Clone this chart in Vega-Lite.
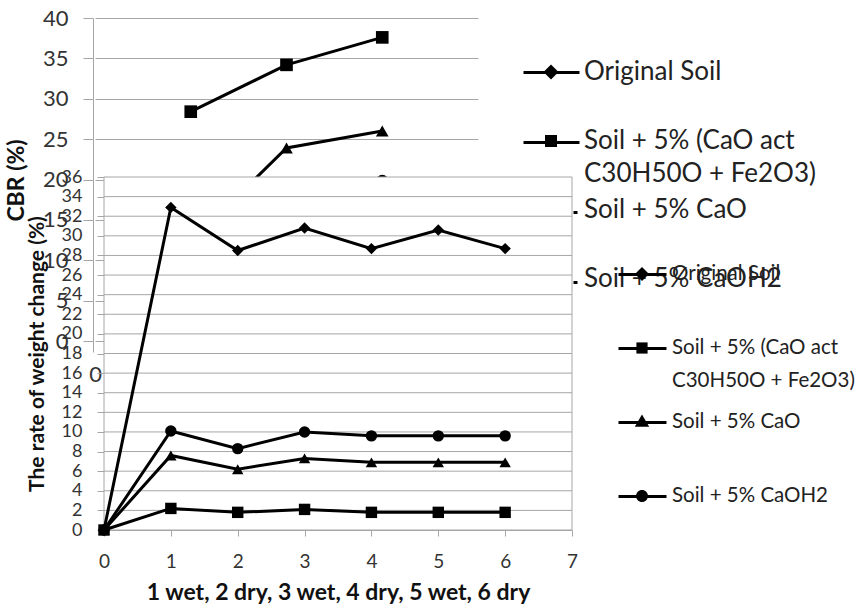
{
  "$schema": "https://vega.github.io/schema/vega-lite/v6.json",
  "width": 477,
  "height": 512,
  "autosize": "none",
  "padding": {"left": 95, "top": 18, "right": 291, "bottom": 82},
  "background": "white",
  "config": {
    "font": "Lato",
    "view": {"stroke": null},
    "style": {"guide-label": {"lineHeight": 33}},
    "axis": {
      "domainColor": "#a6a6a6",
      "tickColor": "#a6a6a6",
      "gridColor": "#a6a6a6",
      "labelColor": "#333333",
      "titleColor": "#111111",
      "labelFont": "Lato",
      "titleFont": "Lato",
      "titleFontWeight": "bold",
      "labelFlush": false,
      "labelOverlap": false
    },
    "legend": {"labelFont": "Lato", "labelColor": "#222222", "padding": 0, "gridAlign": "all", "title": null, "labelLimit": 500, "symbolOpacity": 1}
  },
  "datasets": {
    "cbr": [
      {"series": "Original Soil", "cycle": 1, "cbr": 8.5},
      {"series": "Original Soil", "cycle": 2, "cbr": 10.2},
      {"series": "Original Soil", "cycle": 3, "cbr": 11.6},
      {"series": "Soil + 5% (CaO act C30H50O + Fe2O3)", "cycle": 1, "cbr": 28.4},
      {"series": "Soil + 5% (CaO act C30H50O + Fe2O3)", "cycle": 2, "cbr": 34.2},
      {"series": "Soil + 5% (CaO act C30H50O + Fe2O3)", "cycle": 3, "cbr": 37.6},
      {"series": "Soil + 5% CaO", "cycle": 1, "cbr": 12.3},
      {"series": "Soil + 5% CaO", "cycle": 2, "cbr": 23.9},
      {"series": "Soil + 5% CaO", "cycle": 3, "cbr": 26.0},
      {"series": "Soil + 5% CaOH2", "cycle": 1, "cbr": 14.5},
      {"series": "Soil + 5% CaOH2", "cycle": 2, "cbr": 17.0},
      {"series": "Soil + 5% CaOH2", "cycle": 3, "cbr": 19.8}
    ],
    "weight": [
      {"series": "Original Soil", "cycle": 0, "rate": 0},
      {"series": "Original Soil", "cycle": 1, "rate": 32.9},
      {"series": "Original Soil", "cycle": 2, "rate": 28.5},
      {"series": "Original Soil", "cycle": 3, "rate": 30.8},
      {"series": "Original Soil", "cycle": 4, "rate": 28.7},
      {"series": "Original Soil", "cycle": 5, "rate": 30.6},
      {"series": "Original Soil", "cycle": 6, "rate": 28.7},
      {"series": "Soil + 5% (CaO act C30H50O + Fe2O3)", "cycle": 0, "rate": 0},
      {"series": "Soil + 5% (CaO act C30H50O + Fe2O3)", "cycle": 1, "rate": 2.2},
      {"series": "Soil + 5% (CaO act C30H50O + Fe2O3)", "cycle": 2, "rate": 1.8},
      {"series": "Soil + 5% (CaO act C30H50O + Fe2O3)", "cycle": 3, "rate": 2.1},
      {"series": "Soil + 5% (CaO act C30H50O + Fe2O3)", "cycle": 4, "rate": 1.8},
      {"series": "Soil + 5% (CaO act C30H50O + Fe2O3)", "cycle": 5, "rate": 1.8},
      {"series": "Soil + 5% (CaO act C30H50O + Fe2O3)", "cycle": 6, "rate": 1.8},
      {"series": "Soil + 5% CaO", "cycle": 0, "rate": 0},
      {"series": "Soil + 5% CaO", "cycle": 1, "rate": 7.6},
      {"series": "Soil + 5% CaO", "cycle": 2, "rate": 6.2},
      {"series": "Soil + 5% CaO", "cycle": 3, "rate": 7.3},
      {"series": "Soil + 5% CaO", "cycle": 4, "rate": 6.9},
      {"series": "Soil + 5% CaO", "cycle": 5, "rate": 6.9},
      {"series": "Soil + 5% CaO", "cycle": 6, "rate": 6.9},
      {"series": "Soil + 5% CaOH2", "cycle": 0, "rate": 0},
      {"series": "Soil + 5% CaOH2", "cycle": 1, "rate": 10.1},
      {"series": "Soil + 5% CaOH2", "cycle": 2, "rate": 8.3},
      {"series": "Soil + 5% CaOH2", "cycle": 3, "rate": 10.0},
      {"series": "Soil + 5% CaOH2", "cycle": 4, "rate": 9.6},
      {"series": "Soil + 5% CaOH2", "cycle": 5, "rate": 9.6},
      {"series": "Soil + 5% CaOH2", "cycle": 6, "rate": 9.6}
    ],
    "grid": [
      {"v": 2}, {"v": 4}, {"v": 6}, {"v": 8}, {"v": 10}, {"v": 12}, {"v": 14}, {"v": 16},
      {"v": 18}, {"v": 20}, {"v": 22}, {"v": 24}, {"v": 26}, {"v": 28}, {"v": 30}, {"v": 32}, {"v": 34}
    ]
  },
  "layer": [
    {
      "data": {"name": "cbr"},
      "encoding": {
        "x": {
          "field": "cycle", "type": "quantitative",
          "scale": {"domain": [0, 4], "range": [0, 383], "nice": false},
          "axis": {"orient": "bottom", "values": [0], "offset": -178, "domain": false, "ticks": false, "grid": false, "labelFontSize": 22, "labelPadding": 12, "labelDx": -3, "title": null}
        },
        "y": {
          "field": "cbr", "type": "quantitative",
          "scale": {"domain": [-1.36, 40], "range": [334, 0], "nice": false, "zero": false},
          "axis": {"orient": "left", "values": [0, 5, 10, 15, 20, 25, 30, 35, 40], "offset": 2, "tickSize": 10, "labelPadding": 15, "labelFontSize": 22, "labelOverlap": false, "grid": true, "title": "CBR (%)", "titleFontSize": 23, "titlePadding": 14, "titleY": 162}
        }
      },
      "layer": [
        {"mark": {"type": "line", "color": "black", "strokeWidth": 3}, "encoding": {"detail": {"field": "series"}}},
        {
          "mark": {"type": "point", "filled": true, "color": "black", "opacity": 1, "size": 160},
          "encoding": {
            "shape": {
              "field": "series", "type": "nominal",
              "scale": {"domain": ["Original Soil", "Soil + 5% (CaO act C30H50O + Fe2O3)", "Soil + 5% CaO", "Soil + 5% CaOH2"], "range": ["diamond", "square", "triangle-up", "circle"]},
              "legend": null
            }
          }
        },
        {
          "transform": [{"filter": "false"}],
          "mark": {"type": "point", "filled": true, "color": "black", "opacity": 1},
          "encoding": {
            "shape": {
              "field": "series", "type": "nominal",
              "scale": {
                "domain": ["Original Soil", "Soil + 5% (CaO act C30H50O + Fe2O3)", "Soil + 5% CaO", "Soil + 5% CaOH2"],
                "range": ["M0,-0.375L0.375,0L0,0.375L-0.375,0Z", "M-0.3,-0.3H0.3V0.3H-0.3Z", "M0,0", "M0,0"]
              },
              "legend": {
                "orient": "none", "legendX": 435, "legendY": 33,
                "symbolSize": 1600, "labelFontSize": 26, "labelOffset": 12, "rowPadding": 2,
                "labelExpr": "datum.label == 'Soil + 5% (CaO act C30H50O + Fe2O3)' ? ['Soil + 5% (CaO act', 'C30H50O + Fe2O3)'] : datum.label"
              }
            }
          }
        }
      ],
      "resolve": {"scale": {"shape": "independent"}}
    },
    {
      "layer": [
        {
          "data": {"values": [{}]},
          "mark": {"type": "rect", "fill": "white", "stroke": "#a6a6a6", "strokeWidth": 1},
          "encoding": {
            "x": {"datum": 0, "type": "quantitative", "scale": {"domain": [0, 7], "range": [9, 477], "nice": false},
              "axis": {"orient": "bottom", "values": [0, 1, 2, 3, 4, 5, 6, 7], "format": "d", "grid": false, "tickSize": 6, "labelFontSize": 19, "labelPadding": 16, "labelOverlap": false, "title": "1 wet, 2 dry, 3 wet, 4 dry, 5 wet, 6 dry", "titleFontSize": 23, "titlePadding": 10}},
            "x2": {"datum": 7},
            "y": {"datum": 0, "type": "quantitative", "scale": {"domain": [0, 36], "range": [512, 159], "nice": false},
              "axis": {"orient": "left", "offset": -9, "values": [0, 2, 4, 6, 8, 10, 12, 14, 16, 18, 20, 22, 24, 26, 28, 30, 32, 34, 36], "format": "d", "grid": false, "tickSize": 7, "labelPadding": 15, "labelFontSize": 18, "labelOverlap": false, "labelBound": false, "title": "The rate of weight change (%)", "titleFontSize": 21, "titlePadding": 14}},
            "y2": {"datum": 36}
          }
        },
        {
          "data": {"name": "grid"},
          "mark": {"type": "rule", "color": "#a6a6a6", "strokeWidth": 1},
          "encoding": {
            "x": {"datum": 0, "type": "quantitative", "scale": {"domain": [0, 7], "range": [9, 477], "nice": false},
              "axis": {"orient": "bottom", "values": [0, 1, 2, 3, 4, 5, 6, 7], "format": "d", "grid": false, "tickSize": 6, "labelFontSize": 19, "labelPadding": 16, "labelOverlap": false, "title": "1 wet, 2 dry, 3 wet, 4 dry, 5 wet, 6 dry", "titleFontSize": 23, "titlePadding": 10}},
            "x2": {"datum": 7},
            "y": {"field": "v", "type": "quantitative", "scale": {"domain": [0, 36], "range": [512, 159], "nice": false},
              "axis": {"orient": "left", "offset": -9, "values": [0, 2, 4, 6, 8, 10, 12, 14, 16, 18, 20, 22, 24, 26, 28, 30, 32, 34, 36], "format": "d", "grid": false, "tickSize": 7, "labelPadding": 15, "labelFontSize": 18, "labelOverlap": false, "labelBound": false, "title": "The rate of weight change (%)", "titleFontSize": 21, "titlePadding": 14}}
          }
        },
        {
          "data": {"name": "weight"},
          "mark": {"type": "line", "color": "black", "strokeWidth": 3},
          "encoding": {
            "x": {"field": "cycle", "type": "quantitative", "scale": {"domain": [0, 7], "range": [9, 477], "nice": false},
              "axis": {"orient": "bottom", "values": [0, 1, 2, 3, 4, 5, 6, 7], "format": "d", "grid": false, "tickSize": 6, "labelFontSize": 19, "labelPadding": 16, "labelOverlap": false, "title": "1 wet, 2 dry, 3 wet, 4 dry, 5 wet, 6 dry", "titleFontSize": 23, "titlePadding": 10}},
            "y": {"field": "rate", "type": "quantitative", "scale": {"domain": [0, 36], "range": [512, 159], "nice": false},
              "axis": {"orient": "left", "offset": -9, "values": [0, 2, 4, 6, 8, 10, 12, 14, 16, 18, 20, 22, 24, 26, 28, 30, 32, 34, 36], "format": "d", "grid": false, "tickSize": 7, "labelPadding": 15, "labelFontSize": 18, "labelOverlap": false, "labelBound": false, "title": "The rate of weight change (%)", "titleFontSize": 21, "titlePadding": 14}},
            "detail": {"field": "series"}
          }
        },
        {
          "data": {"name": "weight"},
          "mark": {"type": "point", "filled": true, "color": "black", "opacity": 1, "size": 130},
          "encoding": {
            "x": {"field": "cycle", "type": "quantitative", "scale": {"domain": [0, 7], "range": [9, 477], "nice": false},
              "axis": {"orient": "bottom", "values": [0, 1, 2, 3, 4, 5, 6, 7], "format": "d", "grid": false, "tickSize": 6, "labelFontSize": 19, "labelPadding": 16, "labelOverlap": false, "title": "1 wet, 2 dry, 3 wet, 4 dry, 5 wet, 6 dry", "titleFontSize": 23, "titlePadding": 10}},
            "y": {"field": "rate", "type": "quantitative", "scale": {"domain": [0, 36], "range": [512, 159], "nice": false},
              "axis": {"orient": "left", "offset": -9, "values": [0, 2, 4, 6, 8, 10, 12, 14, 16, 18, 20, 22, 24, 26, 28, 30, 32, 34, 36], "format": "d", "grid": false, "tickSize": 7, "labelPadding": 15, "labelFontSize": 18, "labelOverlap": false, "labelBound": false, "title": "The rate of weight change (%)", "titleFontSize": 21, "titlePadding": 14}},
            "shape": {
              "field": "series", "type": "nominal",
              "scale": {"domain": ["Original Soil", "Soil + 5% (CaO act C30H50O + Fe2O3)", "Soil + 5% CaO", "Soil + 5% CaOH2"], "range": ["diamond", "square", "triangle-up", "circle"]},
              "legend": null
            }
          }
        },
        {
          "data": {"name": "weight"},
          "transform": [{"filter": "false"}],
          "mark": {"type": "point", "filled": true, "color": "black", "opacity": 1},
          "encoding": {
            "x": {"field": "cycle", "type": "quantitative", "scale": {"domain": [0, 7], "range": [9, 477], "nice": false},
              "axis": {"orient": "bottom", "values": [0, 1, 2, 3, 4, 5, 6, 7], "format": "d", "grid": false, "tickSize": 6, "labelFontSize": 19, "labelPadding": 16, "labelOverlap": false, "title": "1 wet, 2 dry, 3 wet, 4 dry, 5 wet, 6 dry", "titleFontSize": 23, "titlePadding": 10}},
            "y": {"field": "rate", "type": "quantitative", "scale": {"domain": [0, 36], "range": [512, 159], "nice": false},
              "axis": {"orient": "left", "offset": -9, "values": [0, 2, 4, 6, 8, 10, 12, 14, 16, 18, 20, 22, 24, 26, 28, 30, 32, 34, 36], "format": "d", "grid": false, "tickSize": 7, "labelPadding": 15, "labelFontSize": 18, "labelOverlap": false, "labelBound": false, "title": "The rate of weight change (%)", "titleFontSize": 21, "titlePadding": 14}},
            "shape": {
              "field": "series", "type": "nominal",
              "scale": {
                "domain": ["Original Soil", "Soil + 5% (CaO act C30H50O + Fe2O3)", "Soil + 5% CaO", "Soil + 5% CaOH2"],
                "range": ["M0,-0.35L0.35,0L0,0.35L-0.35,0Z", "M-0.28,-0.28H0.28V0.28H-0.28Z", "M0,-0.38L0.36,0.24H-0.36Z", "M-0.3,0A0.3,0.3,0,1,1,0.3,0A0.3,0.3,0,1,1,-0.3,0Z"]
              },
              "legend": {
                "orient": "none", "legendX": 526, "legendY": 235,
                "symbolSize": 1600, "labelFontSize": 20.5, "labelOffset": 9, "rowPadding": 9,
                "labelExpr": "datum.label == 'Soil + 5% (CaO act C30H50O + Fe2O3)' ? ['Soil + 5% (CaO act', 'C30H50O + Fe2O3)'] : datum.label"
              }
            }
          }
        }
      ],
      "resolve": {"scale": {"shape": "independent"}}
    },
    {
      "data": {"name": "cbr"},
      "transform": [{"filter": "false"}],
      "mark": {"type": "line", "color": "black", "strokeWidth": 3},
      "encoding": {
        "x": {"field": "cycle", "type": "quantitative", "axis": null, "scale": {"domain": [0, 1]}},
        "y": {"field": "cbr", "type": "quantitative", "axis": null, "scale": {"domain": [0, 1]}},
        "strokeDash": {
          "field": "series", "type": "nominal",
          "scale": {"domain": ["Original Soil", "Soil + 5% (CaO act C30H50O + Fe2O3)", "Soil + 5% CaO", "Soil + 5% CaOH2"], "range": [[1, 0], [1, 0], [0, 50, 4, 100], [0, 50, 4, 100]]},
          "legend": {
            "orient": "none", "legendX": 435, "legendY": 33,
            "symbolSize": 1600, "symbolType": "M-1.4,0H1.4", "symbolStrokeWidth": 3, "symbolStrokeColor": "black",
            "labelFontSize": 26, "labelOffset": 12, "rowPadding": 2, "labelOpacity": 0,
            "labelExpr": "datum.label == 'Soil + 5% (CaO act C30H50O + Fe2O3)' ? ['Soil + 5% (CaO act', 'C30H50O + Fe2O3)'] : datum.label"
          }
        }
      }
    },
    {
      "data": {"name": "weight"},
      "transform": [{"filter": "false"}],
      "mark": {"type": "line", "color": "black", "strokeWidth": 3},
      "encoding": {
        "x": {"field": "cycle", "type": "quantitative", "axis": null, "scale": {"domain": [0, 1]}},
        "y": {"field": "rate", "type": "quantitative", "axis": null, "scale": {"domain": [0, 1]}},
        "strokeDash": {
          "field": "series", "type": "nominal",
          "scale": {"domain": ["Original Soil", "Soil + 5% (CaO act C30H50O + Fe2O3)", "Soil + 5% CaO", "Soil + 5% CaOH2"], "range": [[1, 0], [1, 0], [1, 0], [1, 0]]},
          "legend": {
            "orient": "none", "legendX": 526, "legendY": 235,
            "symbolSize": 1600, "symbolType": "M-1.2,0H1.2", "symbolStrokeWidth": 3, "symbolStrokeColor": "black",
            "labelFontSize": 20.5, "labelOffset": 9, "rowPadding": 9, "labelOpacity": 0,
            "labelExpr": "datum.label == 'Soil + 5% (CaO act C30H50O + Fe2O3)' ? ['Soil + 5% (CaO act', 'C30H50O + Fe2O3)'] : datum.label"
          }
        }
      }
    }
  ],
  "resolve": {"scale": {"x": "independent", "y": "independent", "shape": "independent", "strokeDash": "independent"}}
}
